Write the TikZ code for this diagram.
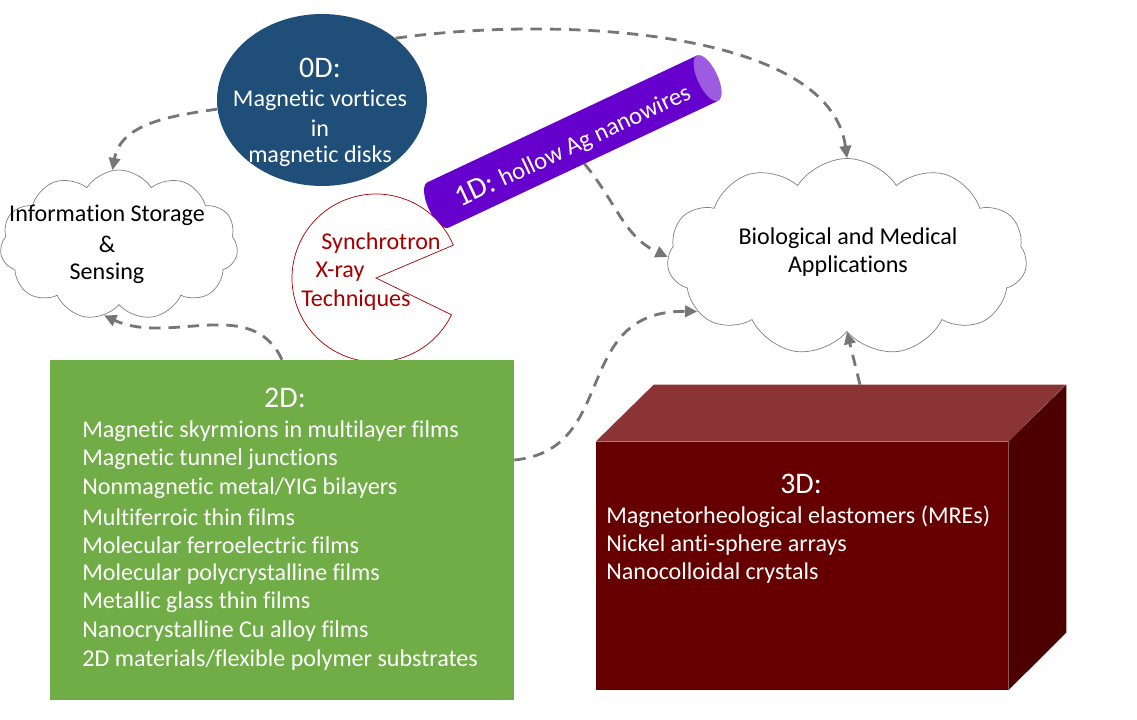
\documentclass[tikz,border=0pt]{standalone}
\usepackage{fontspec}
\setmainfont{Carlito}[Ligatures=NoCommon]
\usetikzlibrary{
  positioning, arrows.meta,
  shapes.geometric, shapes.symbols
}

\definecolor{diskblue}{HTML}{1F4E79}
\definecolor{wirepurple}{HTML}{6600CC}
\definecolor{wirecap}{HTML}{9D5CE0}
\definecolor{filmgreen}{HTML}{70AD47}
\definecolor{bulkfront}{HTML}{660000}
\definecolor{bulktop}{HTML}{8A3436}
\definecolor{bulkside}{HTML}{4C0000}
\definecolor{linkgray}{HTML}{767676}
\definecolor{synred}{HTML}{A50000}

\tikzset{
  conn/.style={draw=linkgray, line width=1.6pt, dash pattern=on 6.5pt off 4.5pt,
    -{Triangle[length=7pt,width=6.5pt]}},
  appcloud/.style={cloud, draw=gray, thin, fill=white, cloud puffs=11,
    cloud puff arc=115, inner sep=0pt},
  headtxt/.style={text=white, font=\fontsize{17}{20}\selectfont},
  bodytxt/.style={text=white, font=\fontsize{13.7}{16}\selectfont, inner sep=0pt},
  cloudtxt/.style={text=black, font=\fontsize{13.7}{16}\selectfont, inner sep=0pt},
  syntxt/.style={text=synred, font=\fontsize{13.7}{16}\selectfont, inner sep=0pt}
}

\begin{document}
\begin{tikzpicture}[x=0.02cm,y=0.02cm]
  \useasboundingbox (0,0) rectangle (1137,720);

  % clouds
  \node[appcloud, minimum width=4.76cm, minimum height=3cm] (info) at (119,475) {};
  \node[cloudtxt] at (107,505) {Information Storage};
  \node[cloudtxt] at (107,476) {\&};
  \node[cloudtxt] at (107,447) {Sensing};

  \node[appcloud, minimum width=7.2cm, minimum height=3.94cm] (bio) at (847,463) {};
  \node[cloudtxt] at (848,482) {Biological and Medical};
  \node[cloudtxt] at (848,454) {Applications};

  % 0D
  \node[ellipse, fill=diskblue, minimum width=4.2cm, minimum height=3.44cm, inner sep=0pt] (zeroD) at (322,620) {};
  \node[headtxt] at (320,652) {0D:};
  \node[bodytxt] at (320,620) {Magnetic vortices};
  \node[bodytxt] at (320,592) {in};
  \node[bodytxt] at (320,564) {magnetic disks};

  % 1D
  \begin{scope}[shift={(438,515)}, rotate=25.2]
    \fill[wirepurple] (298,25) -- (0,25) arc (90:270:10 and 25) -- (298,-25) -- cycle;
    \fill[wirecap] (298,0) ellipse (10 and 25);
    \coordinate (oneDbot) at (150,-25);
  \end{scope}
  \node[rotate=25.2, text=white] (oneD) at (573,574)
    {\fontsize{17}{20}\selectfont 1D: \fontsize{14}{16}\selectfont hollow Ag nanowires};

  % synchrotron
  \draw[synred, fill=white, thin] (376,442) -- ++(23:1.68cm) arc (23:334:1.68cm) -- cycle;
  \node[syntxt] (synch) at (381,477) {Synchrotron};
  \node[syntxt] (xray) at (340,448) {X-ray};
  \node[syntxt] (tech) at (356,420) {Techniques};

  % 2D
  \node[rectangle, fill=filmgreen, minimum width=9.28cm, minimum height=6.8cm, inner sep=0pt] (twoD) at (282,190) {};
  \node[headtxt] at (285,322) {2D:};
  \foreach \t [count=\i] in {Magnetic skyrmions in multilayer films,
      Magnetic tunnel junctions, Nonmagnetic metal/YIG bilayers,
      Multiferroic thin films, Molecular ferroelectric films,
      Molecular polycrystalline films, Metallic glass thin films,
      Nanocrystalline Cu alloy films, 2D materials/flexible polymer substrates}
    \node[bodytxt, anchor=west] (twoD-\i) at ({82},{289-(\i-1)*28.6}) {\t};

  % 3D
  \node[rectangle, fill=bulkfront, minimum width=8.24cm, minimum height=4.96cm, inner sep=0pt] (threeD) at (802,154) {};
  \fill[bulktop] (threeD.north west) -- ++(58,57) -- ++(412,0) -- (threeD.north east) -- cycle;
  \fill[bulkside] (threeD.north east) -- ++(58,57) -- ++(0,-248) -- (threeD.south east) -- cycle;
  \coordinate (threeDtop) at ([shift={(58,57)}]threeD.north);
  \node[headtxt] at (801,236) {3D:};
  \node[bodytxt, anchor=west] (threeD-1) at (606,203) {Magnetorheological elastomers (MREs)};
  \node[bodytxt, anchor=west] (threeD-2) at (606,175) {Nickel anti-sphere arrays};
  \node[bodytxt, anchor=west] (threeD-3) at (606,147) {Nanocolloidal crystals};

  % connectors
  \draw[conn] (zeroD.185) to[out=188,in=80] (info.95);
  \draw[conn] (zeroD.40) .. controls (560,705) and (830,690) .. (bio.north);
  \draw[conn] (oneDbot) to[out=-50,in=155] (bio.west);
  \draw[conn] ([yshift=1.4cm]twoD.east) .. controls (620,270) and (570,410) .. (bio.200);
  \draw[conn] (twoD.north) to[out=115,in=-25] (info.258);
  \draw[conn] (threeDtop) -- (bio.south);
\end{tikzpicture}
\end{document}
